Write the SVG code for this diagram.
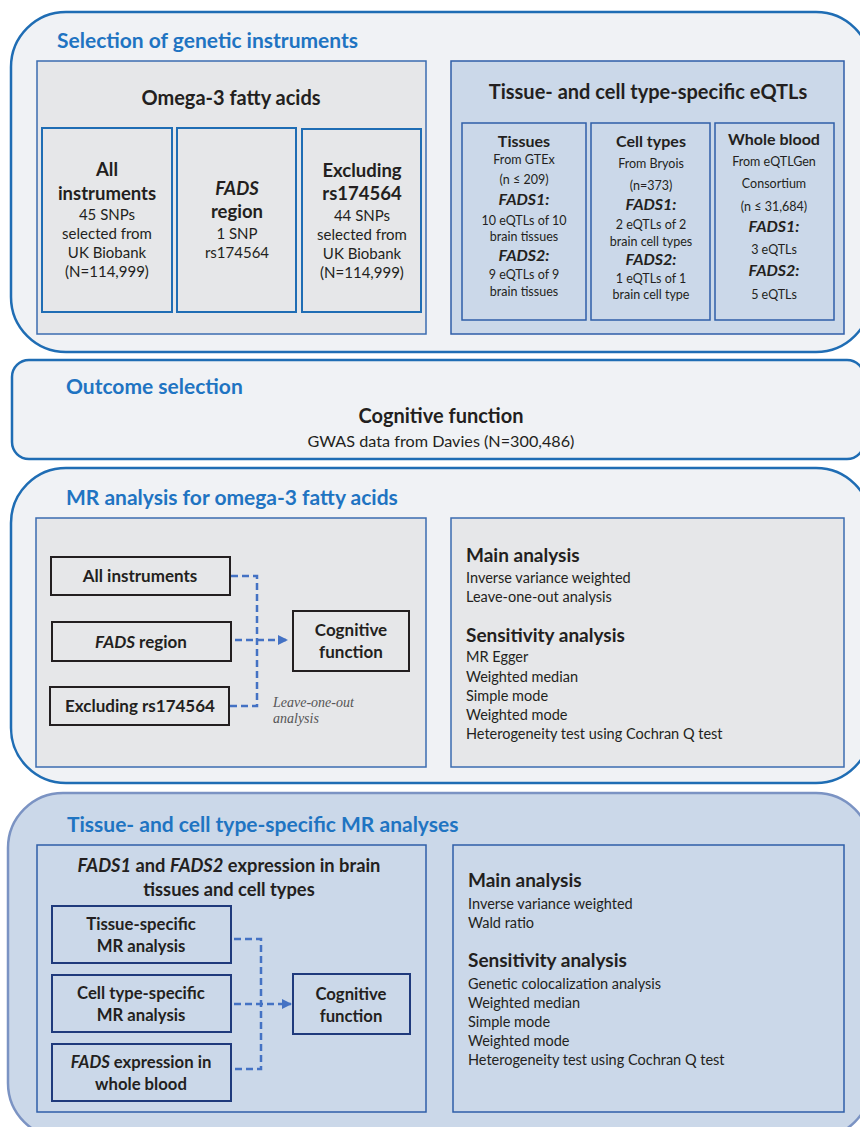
<svg xmlns="http://www.w3.org/2000/svg" width="860" height="1127" viewBox="0 0 860 1127">
<defs>
<style>
.sec{fill:#f0f2f5;stroke:#1f6db4;stroke-width:2.5}
.sec4{fill:#cbd8e9;stroke:#7b93c3;stroke-width:2.5}
.gray{fill:#e6e7e9;stroke:#3b6cb0;stroke-width:1.5}
.blue{fill:#cbd8e9;stroke:#2f5ea8;stroke-width:1.5}
.sub{fill:none;stroke:#1f6db4;stroke-width:2}
.subb{fill:none;stroke:#2f5ea8;stroke-width:1.5}
.blk{fill:none;stroke:#231f20;stroke-width:2}
.nav{fill:none;stroke:#1f3a7c;stroke-width:2}
text{font-family:Lato,"Open Sans","Liberation Sans",sans-serif;fill:#231f20}
.h{font-size:21px;font-weight:bold;fill:#1f74c2}
.t{font-size:20px;font-weight:bold}
.b{font-size:18.5px;font-weight:bold}
.bs{font-size:16px;font-weight:bold}
.bt{font-size:16.7px;font-weight:bold}
.r{font-size:15px}
.rs{font-size:12.5px}
.fi{font-size:16px;font-weight:bold;font-style:italic}
.l{font-size:14.5px}
.m{font-size:17px;font-weight:bold}
.mh{font-size:19px;font-weight:bold}
.c{text-anchor:middle}
.it{font-style:italic}
.loo{font-family:"Liberation Serif",serif;font-style:italic;font-size:14px;fill:#555}
.dash{fill:none;stroke:#4472c4;stroke-width:2.5;stroke-dasharray:7 4}
</style>
<marker id="ah" viewBox="0 0 10 10" refX="9" refY="5" markerWidth="4" markerHeight="4" orient="auto" markerUnits="strokeWidth">
<path d="M0,0L10,5L0,10z" fill="#4472c4"/>
</marker>
</defs>

<g id="section-instruments">
<rect class="sec" x="11" y="12" width="860" height="340" rx="55"/>
<text class="h" x="57" y="48">Selection of genetic instruments</text>
</g>
<g id="omega3">
<rect class="gray" x="37" y="61" width="389" height="273"/>
<text class="t c" x="231" y="105">Omega-3 fatty acids</text>
</g>
<g id="all-instruments">
<rect class="sub" x="42" y="128" width="130" height="184"/>
<text class="b c" x="107" y="176">All</text>
<text class="b c" x="107" y="200">instruments</text>
<text class="r c" x="107" y="220">45 SNPs</text>
<text class="r c" x="107" y="239">selected from</text>
<text class="r c" x="107" y="258">UK Biobank</text>
<text class="r c" x="107" y="277">(N=114,999)</text>
</g>
<g id="fads-region">
<rect class="sub" x="177" y="128" width="119" height="184"/>
<text class="b c it" x="237" y="195">FADS</text>
<text class="b c" x="237" y="218">region</text>
<text class="r c" x="237" y="239">1 SNP</text>
<text class="r c" x="237" y="258">rs174564</text>
</g>
<g id="excluding">
<rect class="sub" x="302" y="129" width="119" height="183"/>
<text class="b c" x="362" y="177">Excluding</text>
<text class="b c" x="362" y="200">rs174564</text>
<text class="r c" x="362" y="221">44 SNPs</text>
<text class="r c" x="362" y="240">selected from</text>
<text class="r c" x="362" y="259">UK Biobank</text>
<text class="r c" x="362" y="278">(N=114,999)</text>
</g>
<g id="eqtls">
<rect class="blue" x="451" y="61" width="393" height="273"/>
<text class="t c" x="648" y="99">Tissue- and cell type-specific eQTLs</text>
</g>
<g id="tissues">
<rect class="subb" x="462" y="123" width="124" height="197"/>
<text class="bs c" x="524" y="147">Tissues</text>
<text class="rs c" x="524" y="164">From GTEx</text>
<text class="rs c" x="524" y="184">(n ≤ 209)</text>
<text class="fi c" x="524" y="205">FADS1:</text>
<text class="rs c" x="524" y="225">10 eQTLs of 10</text>
<text class="rs c" x="524" y="241">brain tissues</text>
<text class="fi c" x="524" y="261">FADS2:</text>
<text class="rs c" x="524" y="279">9 eQTLs of 9</text>
<text class="rs c" x="524" y="296">brain tissues</text>
</g>
<g id="cell-types">
<rect class="subb" x="591" y="123" width="119" height="197"/>
<text class="bs c" x="651" y="147">Cell types</text>
<text class="rs c" x="651" y="168">From Bryois</text>
<text class="rs c" x="651" y="190">(n=373)</text>
<text class="fi c" x="651" y="210">FADS1:</text>
<text class="rs c" x="651" y="229">2 eQTLs of 2</text>
<text class="rs c" x="651" y="246">brain cell types</text>
<text class="fi c" x="651" y="265">FADS2:</text>
<text class="rs c" x="651" y="283">1 eQTLs of 1</text>
<text class="rs c" x="651" y="299">brain cell type</text>
</g>
<g id="whole-blood">
<rect class="subb" x="715" y="123" width="119" height="197"/>
<text class="bs c" x="774" y="145">Whole blood</text>
<text class="rs c" x="774" y="166">From eQTLGen</text>
<text class="rs c" x="774" y="188">Consortium</text>
<text class="rs c" x="774" y="211">(n ≤ 31,684)</text>
<text class="fi c" x="774" y="232">FADS1:</text>
<text class="rs c" x="774" y="254">3 eQTLs</text>
<text class="fi c" x="774" y="276">FADS2:</text>
<text class="rs c" x="774" y="299">5 eQTLs</text>
</g>

<g id="section-outcome">
<rect class="sec" x="12" y="360" width="852" height="99" rx="17"/>
<text class="h" x="66" y="394">Outcome selection</text>
<text class="t c" x="441" y="423">Cognitive function</text>
<text class="c" font-size="16.2" x="441" y="447">GWAS data from Davies (N=300,486)</text>
</g>

<g id="section-mr">
<rect class="sec" x="11" y="468" width="860" height="315" rx="55"/>
<text class="h" x="66" y="505">MR analysis for omega-3 fatty acids</text>
<rect class="gray" x="36" y="518" width="390" height="249"/>
<rect class="gray" x="451" y="518" width="393" height="249"/>
</g>
<g id="mr-all">
<rect class="blk" x="51" y="557" width="179" height="38"/>
<text class="m c" x="140" y="582">All instruments</text>
</g>
<g id="mr-fads">
<rect class="blk" x="52" y="622" width="179" height="39"/>
<text class="m c" x="141" y="648"><tspan font-style="italic">FADS</tspan> region</text>
</g>
<g id="mr-excl">
<rect class="blk" x="50" y="687" width="179" height="38"/>
<text class="m c" x="140" y="712">Excluding rs174564</text>
</g>
<g id="mr-cog">
<rect class="blk" x="293" y="611" width="116" height="60"/>
<text class="m c" x="351" y="636">Cognitive</text>
<text class="m c" x="351" y="658">function</text>
</g>
<g id="mr-methods">
<text class="mh" x="466" y="562">Main analysis</text>
<text class="l" x="466" y="583">Inverse variance weighted</text>
<text class="l" x="466" y="602">Leave-one-out analysis</text>
<text class="mh" x="466" y="642">Sensitivity analysis</text>
<text class="l" x="466" y="662">MR Egger</text>
<text class="l" x="466" y="682">Weighted median</text>
<text class="l" x="466" y="701">Simple mode</text>
<text class="l" x="466" y="720">Weighted mode</text>
<text class="l" x="466" y="739">Heterogeneity test using Cochran Q test</text>
</g>
<g id="mr-note">
<text class="loo" x="273" y="707">Leave-one-out</text>
<text class="loo" x="273" y="723">analysis</text>
</g>

<g id="section-tissue">
<rect class="sec4" x="8" y="793" width="863" height="345" rx="55"/>
<text class="h" x="67" y="832">Tissue- and cell type-specific MR analyses</text>
<rect class="blue" x="37" y="845" width="389" height="267"/>
<text class="c" font-size="18.3" font-weight="bold" x="229" y="872"><tspan font-style="italic">FADS1</tspan> and <tspan font-style="italic">FADS2</tspan> expression in brain</text>
<text class="c" font-size="18.3" font-weight="bold" x="229" y="896">tissues and cell types</text>
<rect class="blue" x="453" y="845" width="391" height="267"/>
</g>
<g id="ts-tissue">
<rect class="nav" x="52" y="906" width="179" height="57"/>
<text class="bt c" x="141" y="930">Tissue-specific</text>
<text class="bt c" x="141" y="952">MR analysis</text>
</g>
<g id="ts-cell">
<rect class="nav" x="52" y="975" width="179" height="57"/>
<text class="bt c" x="141" y="999">Cell type-specific</text>
<text class="bt c" x="141" y="1021">MR analysis</text>
</g>
<g id="ts-blood">
<rect class="nav" x="52" y="1044" width="179" height="57"/>
<text class="bt c" x="141" y="1068"><tspan font-style="italic">FADS</tspan> expression in</text>
<text class="bt c" x="141" y="1090">whole blood</text>
</g>
<g id="ts-cog">
<rect class="nav" x="293" y="974" width="117" height="60"/>
<text class="bt c" x="351" y="1000">Cognitive</text>
<text class="bt c" x="351" y="1022">function</text>
</g>
<g id="ts-methods">
<text class="mh" x="468" y="887">Main analysis</text>
<text class="l" x="468" y="909">Inverse variance weighted</text>
<text class="l" x="468" y="928">Wald ratio</text>
<text class="mh" x="468" y="967">Sensitivity analysis</text>
<text class="l" x="468" y="989">Genetic colocalization analysis</text>
<text class="l" x="468" y="1008">Weighted median</text>
<text class="l" x="468" y="1027">Simple mode</text>
<text class="l" x="468" y="1046">Weighted mode</text>
<text class="l" x="468" y="1065">Heterogeneity test using Cochran Q test</text>
</g>

<g id="connectors">
<path class="dash" d="M231,576H257V706H230"/>
<path class="dash" d="M235,640H287" marker-end="url(#ah)"/>
<path class="dash" d="M234,939H261V1069H234"/>
<path class="dash" d="M234,1004H291" marker-end="url(#ah)"/>
</g>
</svg>
